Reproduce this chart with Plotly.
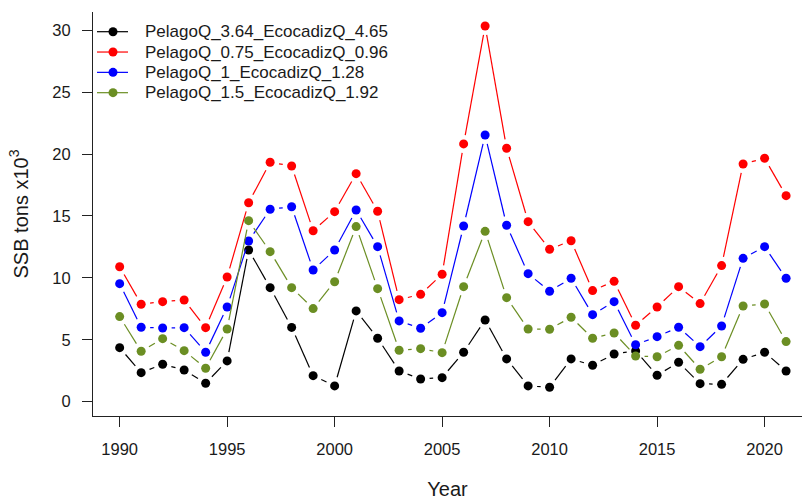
import plotly.graph_objects as go

# Spawning stock biomass (thousand tonnes) under four catchability scenarios
years = list(range(1990, 2022))

series_names = [
    "PelagoQ_3.64_EcocadizQ_4.65",
    "PelagoQ_0.75_EcocadizQ_0.96",
    "PelagoQ_1_EcocadizQ_1.28",
    "PelagoQ_1.5_EcocadizQ_1.92",
]

ssb_q364 = [4.36, 2.34, 3.02, 2.56, 1.49, 3.29, 12.25, 9.21, 6.00, 2.10,
            1.27, 7.33, 5.12, 2.48, 1.83, 1.94, 3.99, 6.60, 3.45, 1.27,
            1.16, 3.45, 2.94, 3.85, 4.10, 2.13, 3.18, 1.45, 1.40, 3.42,
            3.99, 2.48]
ssb_q075 = [10.90, 7.87, 8.08, 8.21, 5.98, 10.07, 16.07, 19.34, 19.04, 13.81,
            15.35, 18.42, 15.38, 8.24, 8.67, 10.29, 20.82, 30.35, 20.47, 14.54,
            12.31, 13.00, 8.97, 9.72, 6.17, 7.65, 9.29, 7.92, 10.99, 19.20,
            19.66, 16.64]
ssb_q1 = [9.53, 6.01, 5.95, 5.98, 3.99, 7.65, 12.98, 15.54, 15.75, 10.64,
          12.25, 15.48, 12.52, 6.52, 5.93, 7.19, 14.19, 21.54, 14.25, 10.34,
          8.92, 9.97, 7.03, 8.08, 4.60, 5.25, 6.01, 4.44, 6.11, 11.58,
          12.52, 9.97]
ssb_q15 = [6.87, 4.07, 5.09, 4.12, 2.70, 5.87, 14.62, 12.12, 9.21, 7.52,
           9.69, 14.14, 9.13, 4.15, 4.28, 3.96, 9.29, 13.76, 8.40, 5.87,
           5.85, 6.82, 5.12, 5.55, 3.69, 3.63, 4.55, 2.62, 3.63, 7.73,
           7.89, 4.85]

series_values = [ssb_q364, ssb_q075, ssb_q1, ssb_q15]
colors = ["#000000", "#FF0000", "#0000FF", "#6B8E23"]

y_ticks = [0, 5, 10, 15, 20, 25, 30]
x_ticks = [1990, 1995, 2000, 2005, 2010, 2015, 2020]

# Page geometry and axis ranges
W, H = 802, 500
M_L, M_R, M_T, M_B = 93, 0, 12, 84
PLOT_W, PLOT_H = W - M_L - M_R, H - M_T - M_B
X_RANGE = [1988.76, 2021.74]
Y_RANGE = [-1.16, 31.48]
px_x = PLOT_W / (X_RANGE[1] - X_RANGE[0])
px_y = PLOT_H / (Y_RANGE[1] - Y_RANGE[0])
GAP = 9  # pixels left open around each point (base-R type="b" look)
FONT = "Liberation Sans, Arial, sans-serif"
FS = 16.5
FS_LEGEND = 17


def gapped_segments(xs, ys, gap=GAP):
    """Segments between consecutive points, trimmed short of each point."""
    out_x, out_y = [], []
    for (x0, y0), (x1, y1) in zip(zip(xs, ys), zip(xs[1:], ys[1:])):
        dx, dy = (x1 - x0) * px_x, (y1 - y0) * px_y
        length = (dx * dx + dy * dy) ** 0.5
        if length <= 2 * gap:
            continue
        f = gap / length
        out_x += [x0 + (x1 - x0) * f, x1 - (x1 - x0) * f, None]
        out_y += [y0 + (y1 - y0) * f, y1 - (y1 - y0) * f, None]
    return out_x, out_y


def paper_x(px):
    return (px - M_L) / PLOT_W


def paper_y(py):
    return 1 - (py - M_T) / PLOT_H


fig = go.Figure()
for name, vals, col in zip(series_names, series_values, colors):
    sx, sy = gapped_segments(years, vals)
    fig.add_trace(go.Scatter(x=sx, y=sy, mode="lines",
                             line=dict(color=col, width=1.2),
                             showlegend=False, hoverinfo="skip"))
    fig.add_trace(go.Scatter(x=years, y=vals, mode="markers", name=name,
                             marker=dict(color=col, size=9),
                             showlegend=False))

# Legend in the top-left corner: a short line with a point, then the label
LEG_TOP, LEG_STEP = 31.7, 20.33
KEY_X0, KEY_X1, KEY_DOT, TEXT_X = 97, 128, 113, 143
DOT_R = 4.5
shapes, annotations = [], []
for i, (name, col) in enumerate(zip(series_names, colors)):
    cy = LEG_TOP + i * LEG_STEP
    shapes.append(dict(type="line", xref="paper", yref="paper",
                       x0=paper_x(KEY_X0), x1=paper_x(KEY_X1),
                       y0=paper_y(cy), y1=paper_y(cy),
                       line=dict(color=col, width=1.2)))
    shapes.append(dict(type="circle", xref="paper", yref="paper",
                       x0=paper_x(KEY_DOT - DOT_R), x1=paper_x(KEY_DOT + DOT_R),
                       y0=paper_y(cy + DOT_R), y1=paper_y(cy - DOT_R),
                       fillcolor=col, line=dict(color=col, width=0)))
    annotations.append(dict(text=name, xref="paper", yref="paper",
                            x=paper_x(TEXT_X), y=paper_y(cy),
                            xanchor="left", yanchor="middle", showarrow=False,
                            font=dict(family=FONT, size=FS_LEGEND,
                                      color="#1a1a1a")))

axis_style = dict(showgrid=False, zeroline=False,
                  showline=True, linecolor="#222222", linewidth=1.2,
                  ticks="outside", ticklen=10, tickwidth=1.2,
                  tickcolor="#222222", ticklabelstandoff=8)

fig.update_layout(
    width=W, height=H,
    margin=dict(l=M_L, r=M_R, t=M_T, b=M_B),
    paper_bgcolor="white", plot_bgcolor="white",
    font=dict(family=FONT, size=FS, color="#1a1a1a"),
    showlegend=False,
    shapes=shapes,
    annotations=annotations,
    xaxis=dict(range=X_RANGE, tickvals=x_ticks,
               ticktext=[str(t) for t in x_ticks],
               title=dict(text="Year", standoff=25), **axis_style),
    yaxis=dict(range=Y_RANGE, tickvals=y_ticks,
               ticktext=[str(t) for t in y_ticks],
               title=dict(text="SSB tons x10<sup>3</sup>", standoff=18),
               **axis_style),
)

fig.write_html("out.html")
